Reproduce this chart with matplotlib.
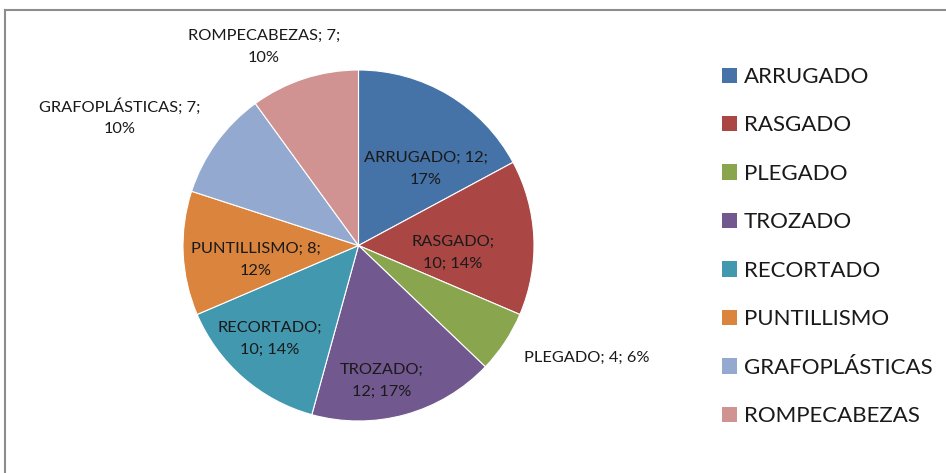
import numpy as np
import matplotlib
matplotlib.use("Agg")
import matplotlib.pyplot as plt
from matplotlib.lines import Line2D

categories = ["ARRUGADO", "RASGADO", "PLEGADO", "TROZADO", "RECORTADO",
              "PUNTILLISMO", "GRAFOPLÁSTICAS", "ROMPECABEZAS"]
values = [12, 10, 4, 12, 10, 8, 7, 7]
percent_labels = ["17%", "14%", "6%", "17%", "14%", "12%", "10%", "10%"]
colors = ["#4572A7", "#AA4643", "#89A54E", "#71588F", "#4198AF",
          "#DB843D", "#93A9CF", "#D19392"]

# label layout: angular offset from wedge mid (deg), distance / radius, line break style
label_offsets = [-10.5, -7.1, 7.2, -5.6, -2.3, 5.5, 7.7, 7.5]
label_dists = [0.581, 0.540, 1.451, 0.784, 0.733, 0.590, 1.544, 1.253]
label_breaks = ["; {v};\n", ";\n{v}; ", "; {v}; ", ";\n{v}; ",
                ";\n{v}; ", "; {v};\n", "; {v};\n", "; {v};\n"]

plt.rcParams['font.family'] = ['Lato', 'DejaVu Sans']

W, H = 946, 473
fig = plt.figure(figsize=(W / 100, H / 100), dpi=100)
ax = fig.add_axes([0, 0, 1, 1])

cx, cy, R = 358.5, H - 245.5, 175.5
wedges, _ = ax.pie(values, colors=colors, startangle=90, counterclock=False,
                   center=(cx, cy), radius=R,
                   wedgeprops=dict(linewidth=0.8, edgecolor="white"))
ax.set_xlim(0, W)
ax.set_ylim(0, H)
ax.set_aspect("equal")
ax.axis("off")

for w, cat, v, p, off, d, br in zip(wedges, categories, values, percent_labels,
                                    label_offsets, label_dists, label_breaks):
    mid = np.deg2rad((w.theta1 + w.theta2) / 2 + off)
    x = cx + d * R * np.cos(mid)
    y = cy + d * R * np.sin(mid)
    txt = cat + br.format(v=v) + p
    ax.text(x, y, txt, ha="center", va="center",
            fontsize=11.8, color="#1a1a1a", linespacing=1.7)

# chart border (top and left visible)
ax.add_line(Line2D([5, W], [H - 10, H - 10], color="#8c8c8c", lw=1.5))
ax.add_line(Line2D([5, 5], [0, H - 10], color="#8c8c8c", lw=1.5))

handles = [plt.Rectangle((0, 0), 1, 1, facecolor=c) for c in colors]
leg = ax.legend(handles, categories, loc="upper left",
                bbox_to_anchor=(722 / W, 1 - 67 / H), frameon=False,
                fontsize=16, handlelength=0.68, handleheight=0.68,
                handletextpad=0.3, labelspacing=1.28, borderpad=0,
                borderaxespad=0)
for t in leg.get_texts():
    t.set_color("#1a1a1a")

fig.savefig("out.png", dpi=100)
